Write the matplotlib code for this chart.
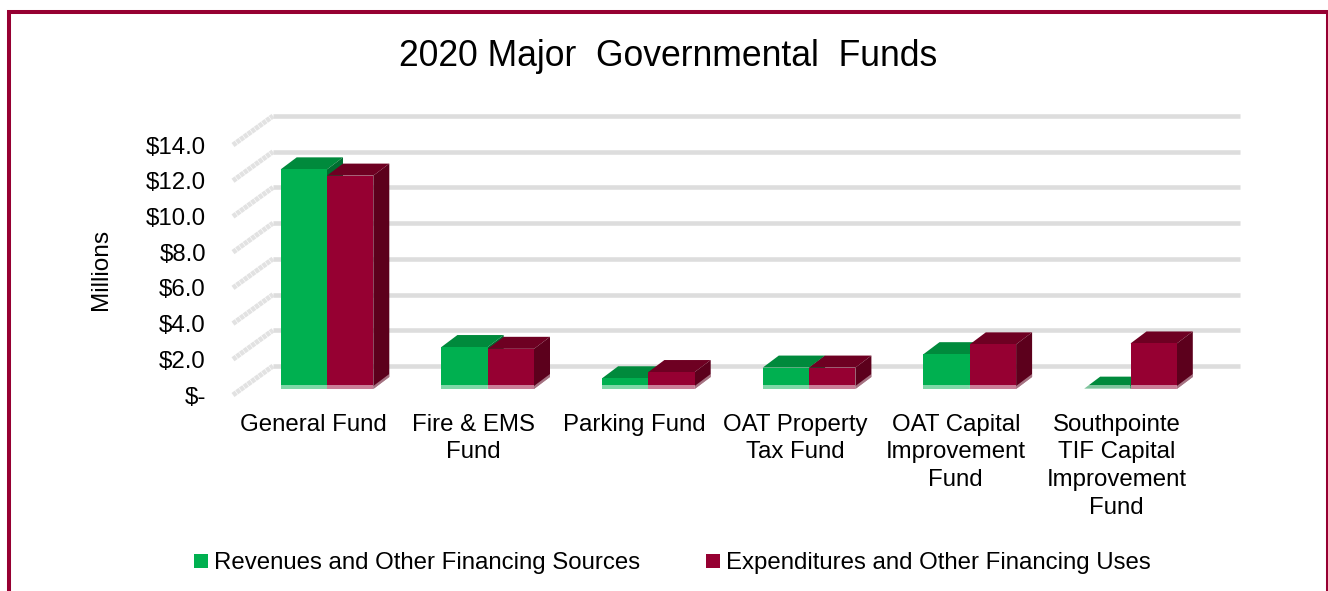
import matplotlib
matplotlib.use('Agg')
import matplotlib.pyplot as plt
from matplotlib.patches import Polygon, Rectangle, Patch

plt.rcParams['font.family'] = ['Liberation Sans', 'DejaVu Sans']

# Data (millions)
funds = ['General Fund', 'Fire & EMS\nFund', 'Parking Fund', 'OAT Property\nTax Fund',
         'OAT Capital\nImprovement\nFund', 'Southpointe\nTIF Capital\nImprovement\nFund']
revenues = [12.3, 2.35, 0.6, 1.2, 1.95, 0.02]
expenditures = [11.95, 2.25, 0.95, 1.2, 2.5, 2.55]
axis_values = [0, 2, 4, 6, 8, 10, 12, 14]
axis_labels = ['$-', '$2.0', '$4.0', '$6.0', '$8.0', '$10.0', '$12.0', '$14.0']
series_names = ['Revenues and Other Financing Sources', 'Expenditures and Other Financing Uses']

W, H = 1328, 591
fig = plt.figure(figsize=(W / 100, H / 100), dpi=100, facecolor='white')

# Scale: one category = 160.7 px, one million = 17.857 px
px_x = 160.7
px_y = 17.857
left, right, top, bottom = 233, 1240, 100, 395
ax = fig.add_axes([left / W, 1 - bottom / H, (right - left) / W, (bottom - top) / H])
ax.set_xlim((left - 327) / px_x, (right - 327) / px_x)
ax.set_ylim((389 - bottom) / px_y, (389 - top) / px_y)
ax.patch.set_alpha(0)
for s in ax.spines.values():
    s.set_visible(False)

# Offsets of the pseudo 3D view, in data units
front_x = ax.get_xlim()[0]
front_y = ax.get_ylim()[0]
wall_dx = 40 / px_x
wall_dy = 29 / px_y
bar_w = 46.3 / px_x
bar_dx = 16 / px_x
bar_dy = 12 / px_y

GREEN = ['#00B050', '#008A3C', '#006E30']
RED = ['#960032', '#6E0022', '#5C001C']

# Gridlines on the back wall and the slanted ones on the side wall
for v in axis_values:
    ax.plot([front_x + wall_dx, ax.get_xlim()[1]], [front_y + v + wall_dy] * 2,
            color='#DDDDDD', lw=3.3, solid_capstyle='butt', zorder=1, clip_on=False)
    ax.plot([front_x, front_x + wall_dx], [front_y + v, front_y + v + wall_dy],
            color='#E2E2E2', lw=3.6, ls=(0, (0.8, 0.12)), zorder=1, clip_on=False)


def draw_bar(x0, h, colors, z):
    ax.bar(x0, h, bar_w, align='edge', color=colors[0], linewidth=0, zorder=z + 0.2)
    top_face = [(x0, h), (x0 + bar_dx, h + bar_dy), (x0 + bar_w + bar_dx, h + bar_dy), (x0 + bar_w, h)]
    side_face = [(x0 + bar_w, 0), (x0 + bar_w + bar_dx, bar_dy), (x0 + bar_w + bar_dx, h + bar_dy), (x0 + bar_w, h)]
    ax.add_patch(Polygon(top_face, closed=True, fc=colors[1], ec='none', zorder=z))
    ax.add_patch(Polygon(side_face, closed=True, fc=colors[2], ec='none', zorder=z))
    # pale strip along the floor
    ax.add_patch(Rectangle((x0, 0), bar_w, 4 / px_y, fc='white', ec='none', alpha=0.5, zorder=z + 0.3))
    foot = [(x0 + bar_w, 0), (x0 + bar_w + bar_dx, bar_dy),
            (x0 + bar_w + bar_dx, bar_dy + 3 / px_y), (x0 + bar_w, 3 / px_y)]
    ax.add_patch(Polygon(foot, closed=True, fc='white', ec='none', alpha=0.45, zorder=z + 0.3))


for i in range(len(funds)):
    draw_bar(i - bar_w, revenues[i], GREEN, 2)
    draw_bar(i, expenditures[i], RED, 3)

# Axes text
ax.set_yticks([v + front_y for v in axis_values])
ax.set_yticklabels(axis_labels, fontsize=17.3, color='black')
ax.set_xticks([i - 14 / px_x for i in range(len(funds))])
ax.set_xticklabels(funds, fontsize=17.3, color='black', linespacing=1.33)
ax.tick_params(axis='y', length=0, pad=19.5)
ax.tick_params(axis='x', length=0, pad=13.5)
ax.set_ylabel('Millions', fontsize=17.6, color='black')
ax.yaxis.set_label_coords((112 - left) / (right - left), (bottom - 269) / (bottom - top))

fig.text(668 / W, 1 - 57 / H, '2020 Major  Governmental  Funds', fontsize=25.6, ha='center', va='center')

handles = [Patch(fc=GREEN[0]), Patch(fc=RED[0])]
fig.legend(handles, series_names, loc='center', bbox_to_anchor=(672.5 / W, 1 - 563.5 / H), ncol=2, frameon=False,
           fontsize=17.3, handlelength=0.58, handleheight=0.58, handletextpad=0.25, columnspacing=2.76)

# Outer frame runs off the bottom of the picture
fig.add_artist(Rectangle((9 / W, 1 - 640 / H), 1318.5 / W, 628 / H, transform=fig.transFigure,
                         fill=False, ec='#960032', lw=2.9, clip_on=True))

fig.savefig('out.png', dpi=100)
